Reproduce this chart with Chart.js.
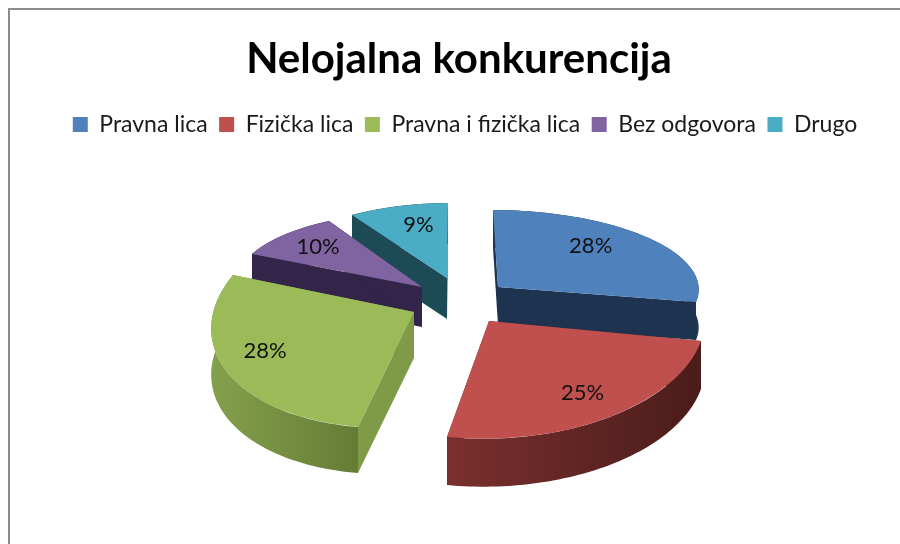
<!DOCTYPE html>
<html>
<head>
<meta charset="utf-8">
<title>Nelojalna konkurencija</title>
<script src="https://cdn.jsdelivr.net/npm/chart.js@4"></script>
<style>
  html, body { margin: 0; background: #fff; }
  #frame { position: absolute; left: 8px; top: 8px; width: 892px; height: 536px; border-left: 2px solid #8c8c8c; border-top: 2px solid #8c8c8c; box-sizing: border-box; }
  #chart { position: absolute; left: 0; top: 0; filter: blur(0.5px); }
</style>
</head>
<body>
<div id="frame"></div>
<canvas id="chart" width="900" height="544"></canvas>
<script>
// Data
const categories = ['Pravna lica', 'Fizička lica', 'Pravna i fizička lica', 'Bez odgovora', 'Drugo'];
const shares = [28, 25, 28, 10, 9];

// Colours
const topColors = ['#4F81BD', '#C0504D', '#9BBB59', '#8064A2', '#4BACC6'];
const wallColors = [
  ['#1F3552', '#1F3552'],
  ['#7A302E', '#4A1C1A'],
  ['#84A04C', '#667C36'],
  ['#33254A', '#33254A'],
  ['#1C4A55', '#1C4A55']
];
const cutColors = ['#1D3350', '#5C2422', '#7F9B48', '#33254A', '#1C4A55'];

// Fake 3D view: where each slice's tip and two straight edges land on the page
const sliceTips = [[498, 287], [489, 321], [414, 312], [422, 287], [447, 278]];
const sliceStarts = [[493, 210], [701, 341], [358, 427], [252, 254], [352, 215]];
const sliceEnds = [[696, 302], [447, 437], [233, 275], [329, 221], [448, 203]];
const sliceDepths = [38, 48, 46, 40, 41];
// Label spot inside a slice: share of its sweep, share of its radius
const labelSweep = [0.41, 0.49, 0.56, 0.52, 0.6];
const labelReach = [0.72, 0.76, 0.77, 0.76, 0.73];
const drawOrder = [4, 3, 0, 2, 1];

/**
 * Linear map from the flat pie to the page for one slice
 */
function sliceMatrix(arc, i) {
  const r = arc.outerRadius;
  const [tx, ty] = sliceTips[i];
  const ax = sliceStarts[i][0] - tx, ay = sliceStarts[i][1] - ty;
  const bx = sliceEnds[i][0] - tx, by = sliceEnds[i][1] - ty;
  const ux = Math.cos(arc.startAngle), uy = Math.sin(arc.startAngle);
  const vx = Math.cos(arc.endAngle), vy = Math.sin(arc.endAngle);
  const det = (ux * vy - vx * uy) * r;
  const a = (ax * vy - bx * uy) / det;
  const b = (ay * vy - by * uy) / det;
  const c = (bx * ux - ax * vx) / det;
  const d = (by * ux - ay * vx) / det;
  return { a, b, c, d, e: tx - a * arc.x - c * arc.y, f: ty - b * arc.x - d * arc.y };
}

function project(m, x, y) {
  return [m.a * x + m.c * y + m.e, m.b * x + m.d * y + m.f];
}

function fillPolygon(ctx, points, fill) {
  ctx.beginPath();
  points.forEach((p, k) => (k ? ctx.lineTo(p[0], p[1]) : ctx.moveTo(p[0], p[1])));
  ctx.closePath();
  ctx.fillStyle = fill;
  ctx.fill();
}

function drawWalls(ctx, arc, i, m) {
  const depth = sliceDepths[i];
  const rim = [];
  for (let k = 0; k <= 60; k++) {
    const t = arc.startAngle + (arc.endAngle - arc.startAngle) * k / 60;
    rim.push(project(m, arc.x + Math.cos(t) * arc.outerRadius, arc.y + Math.sin(t) * arc.outerRadius));
  }
  const tip = sliceTips[i];
  const drop = p => [p[0], p[1] + depth];

  // straight cut faces first, outer wall over them
  [rim[0], rim[rim.length - 1]].forEach(p => {
    fillPolygon(ctx, [tip, p, drop(p), drop(tip)], cutColors[i]);
  });

  const xs = rim.map(p => p[0]);
  const gradient = ctx.createLinearGradient(Math.min(...xs), 0, Math.max(...xs), 0);
  gradient.addColorStop(0, wallColors[i][0]);
  gradient.addColorStop(1, wallColors[i][1]);
  fillPolygon(ctx, rim.concat(rim.map(drop).reverse()), gradient);
}

const pie3d = {
  id: 'pie3d',
  afterLayout(chart) {
    // legend sits a little right of the title in the original
    chart.legend.left += 6;
    chart.legend.right += 6;
  },
  beforeDatasetsDraw(chart) {
    const ctx = chart.ctx;
    const arcs = chart.getDatasetMeta(0).data;
    drawOrder.forEach(i => {
      const arc = arcs[i];
      const m = sliceMatrix(arc, i);
      drawWalls(ctx, arc, i, m);
      ctx.save();
      ctx.transform(m.a, m.b, m.c, m.d, m.e, m.f);
      arc.draw(ctx);
      ctx.restore();
    });

    // percentage labels
    ctx.save();
    ctx.font = '22px Lato';
    ctx.fillStyle = '#111';
    ctx.textAlign = 'center';
    ctx.textBaseline = 'middle';
    arcs.forEach((arc, i) => {
      const angle = arc.startAngle + (arc.endAngle - arc.startAngle) * labelSweep[i];
      const reach = arc.outerRadius * labelReach[i];
      const p = project(sliceMatrix(arc, i), arc.x + Math.cos(angle) * reach, arc.y + Math.sin(angle) * reach);
      ctx.fillText(shares[i] + '%', p[0], p[1]);
    });
    ctx.restore();
    return false;
  }
};

new Chart(document.getElementById('chart'), {
  type: 'pie',
  data: {
    labels: categories,
    datasets: [{ data: shares, backgroundColor: topColors, borderWidth: 0, clip: false }]
  },
  plugins: [pie3d],
  options: {
    responsive: false,
    animation: false,
    layout: { padding: { top: 20, left: 18, right: 0, bottom: 20 } },
    plugins: {
      title: {
        display: true,
        text: 'Nelojalna konkurencija',
        color: '#000',
        font: { family: 'Lato', size: 42, weight: 'bold' },
        padding: { top: 14, bottom: 17 }
      },
      legend: {
        position: 'top',
        labels: {
          boxWidth: 15,
          boxHeight: 15,
          padding: 11.5,
          color: '#1a1a1a',
          font: { family: 'Lato', size: 23 }
        }
      },
      tooltip: { enabled: false }
    }
  }
});
</script>
</body>
</html>
